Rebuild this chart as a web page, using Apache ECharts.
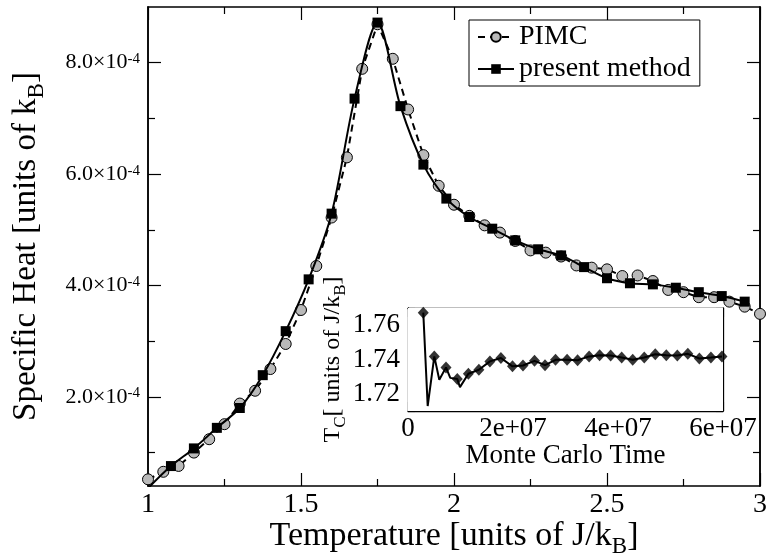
<!DOCTYPE html>
<html>
<head>
<meta charset="utf-8">
<script src="https://cdn.jsdelivr.net/npm/echarts@6/dist/echarts.min.js"></script>
<style>
html,body{margin:0;padding:0;background:#fff;}
#chart{width:767px;height:556px;}
</style>
</head>
<body>
<div id="chart"></div>
<script>
// ---- Main chart data (specific heat in units of 1e-4 k_B) ----
const pimcT = [1.00,1.05,1.10,1.15,1.20,1.25,1.30,1.35,1.40,1.45,1.50,1.55,1.60,1.65,1.70,1.75,1.80,1.85,1.90,1.95,2.00,2.05,2.10,2.15,2.20,2.25,2.30,2.35,2.40,2.45,2.50,2.55,2.60,2.65,2.70,2.75,2.80,2.85,2.90,2.95,3.00];
const pimcHeat = [0.52,0.655,0.76,1.00,1.24,1.51,1.88,2.11,2.50,2.95,3.56,4.35,5.22,6.30,7.89,8.69,8.07,7.16,6.34,5.79,5.45,5.25,5.08,4.95,4.80,4.63,4.59,4.52,4.36,4.32,4.29,4.17,4.18,4.08,3.92,3.88,3.79,3.79,3.71,3.62,3.49];
const presentT = [1.075,1.15,1.225,1.30,1.375,1.45,1.525,1.60,1.675,1.75,1.825,1.90,1.975,2.05,2.125,2.20,2.275,2.35,2.425,2.50,2.575,2.65,2.725,2.80,2.875,2.95];
const presentHeat = [0.758,1.075,1.444,1.80,2.39,3.18,4.11,5.29,7.355,8.72,7.22,6.17,5.56,5.23,5.02,4.81,4.65,4.54,4.33,4.13,4.04,4.02,3.96,3.88,3.81,3.71];
// start of the present-method curve (line only, below the axis)
const presentLineStartT = [1.00];
const presentLineStartHeat = [0.36];
const heatMajorTicks = [2,4,6,8];
const heatMinorTicks = [1,3,5,7];

// ---- Inset data: critical temperature vs Monte Carlo time ----
const mcTime = [2.91e6,5.01e6,7.24e6,9.39e6,11.5e6,13.5e6,15.6e6,17.7e6,19.9e6,21.9e6,24.1e6,26.1e6,28.1e6,30.3e6,32.3e6,34.5e6,36.5e6,38.6e6,40.7e6,42.8e6,45.0e6,47.1e6,49.2e6,51.3e6,53.3e6,55.5e6,57.7e6,59.8e6];
const tcValue = [1.7673,1.7418,1.7354,1.7286,1.7317,1.7340,1.7389,1.7409,1.7360,1.7365,1.7392,1.7367,1.7398,1.7398,1.7396,1.7418,1.7425,1.7423,1.7412,1.7398,1.7412,1.7431,1.7425,1.7423,1.7433,1.7406,1.7412,1.7418];
// intermediate points of the inset curve (no marker)
const mcTimeLineOnly = [3.75e6,5.96e6,8.05e6,9.9e6];
const tcLineOnly = [1.7129,1.7282,1.7293,1.7239];

const FONT = 'Liberation Serif';

const pimcData = pimcT.map((t,i)=>[t,pimcHeat[i]]);
const presentData = presentLineStartT.map((t,i)=>({value:[t,presentLineStartHeat[i]],symbol:'none'}))
  .concat(presentT.map((t,i)=>[t,presentHeat[i]]));
const insetMarkers = mcTime.map((t,i)=>[t,tcValue[i]]);
const insetLine = insetMarkers.concat(mcTimeLineOnly.map((t,i)=>[t,tcLineOnly[i]])).sort((a,b)=>a[0]-b[0]);

const black = '#000';

function heatAxis(pos, ticks, len, labels){
  return {
    type:'value', gridIndex:0, position:pos, min:0.4, max:9.0,
    axisLine:{show:true,onZero:false,lineStyle:{color:black,width:1.5}},
    axisTick:{show:true,inside:true,length:len,customValues:ticks,lineStyle:{color:black,width:1.2}},
    axisLabel: labels ? {
      show:true, customValues:ticks, margin:8, color:black,
      formatter:function(v){return '{m|'+v.toFixed(1)+'×10}{e|-4}';},
      rich:{m:{fontFamily:FONT,fontSize:22,color:black},e:{fontFamily:FONT,fontSize:15,color:black,verticalAlign:'top'}}
    } : {show:false},
    splitLine:{show:false}
  };
}

const option = {
  animation:false,
  backgroundColor:'#fff',
  textStyle:{fontFamily:FONT,color:black},
  grid:[
    {left:148,right:7,top:7,bottom:70,containLabel:false,outerBoundsMode:'none'},
    {left:408,top:308,width:315,height:103,show:true,backgroundColor:'#fff',borderWidth:0,z:5,containLabel:false,outerBoundsMode:'none'}
  ],
  legend:{
    data:['PIMC','present method'],
    orient:'vertical', left:469, top:20,
    padding:[3,9,3,8], itemGap:4, itemWidth:36, itemHeight:12,
    borderColor:black, borderWidth:1, backgroundColor:'#fff',
    textStyle:{fontFamily:FONT,fontSize:28,color:black},
    selectedMode:false
  },
  xAxis:[
    {type:'value',gridIndex:0,position:'bottom',min:1,max:3,interval:0.5,
     axisLine:{show:true,onZero:false,lineStyle:{color:black,width:1.5}},
     axisTick:{inside:true,length:13,lineStyle:{color:black,width:1.2}},
     minorTick:{show:true,splitNumber:2,length:7,lineStyle:{color:black,width:1.2}},
     axisLabel:{fontFamily:FONT,fontSize:28,color:black,margin:5,showMinLabel:true,showMaxLabel:true},
     splitLine:{show:false},
     name:'{m|Temperature [units of J/k}{s|B}{m|]}',nameLocation:'middle',nameGap:33,nameMoveOverlap:false,
     nameTextStyle:{rich:{m:{fontFamily:FONT,fontSize:34,color:black,verticalAlign:'bottom',padding:[0,0,5,0]},s:{fontFamily:FONT,fontSize:23,color:black,verticalAlign:'bottom'}}}
    },
    {type:'value',gridIndex:0,position:'top',min:1,max:3,interval:0.5,
     axisLine:{show:true,onZero:false,lineStyle:{color:black,width:1.5}},
     axisTick:{inside:true,length:13,lineStyle:{color:black,width:1.2}},
     minorTick:{show:true,splitNumber:2,length:7,lineStyle:{color:black,width:1.2}},
     axisLabel:{show:false},splitLine:{show:false}},
    {type:'value',gridIndex:1,position:'bottom',min:0,max:6e7,interval:2e7,
     axisLine:{show:true,onZero:false,lineStyle:{color:black,width:1.3}},
     axisTick:{inside:true,length:9,lineStyle:{color:black,width:1.1}},
     minorTick:{show:true,splitNumber:2,length:5,lineStyle:{color:black,width:1.1}},
     axisLabel:{fontFamily:FONT,fontSize:27,color:black,margin:4,showMinLabel:true,showMaxLabel:true,
       formatter:function(v){return v===0?'0':(v/1e7)+'e+07';}},
     splitLine:{show:false},
     name:'Monte Carlo Time',nameLocation:'middle',nameGap:31,
     nameTextStyle:{fontFamily:FONT,fontSize:27,color:black}
    },
    {type:'value',gridIndex:1,position:'top',min:0,max:6e7,interval:2e7,
     axisLine:{show:true,onZero:false,lineStyle:{color:black,width:1.3}},
     axisTick:{inside:true,length:9,lineStyle:{color:black,width:1.1}},
     minorTick:{show:true,splitNumber:2,length:5,lineStyle:{color:black,width:1.1}},
     axisLabel:{show:false},splitLine:{show:false}}
  ],
  yAxis:[
    Object.assign(heatAxis('left',heatMajorTicks,13,true),{
      name:'{m|Specific Heat [units of k}{s|B}{m|]}',nameLocation:'middle',nameGap:100,nameRotate:90,
      nameTextStyle:{rich:{m:{fontFamily:FONT,fontSize:33,color:black,verticalAlign:'bottom',padding:[0,0,5,0]},s:{fontFamily:FONT,fontSize:23,color:black,verticalAlign:'bottom'}}}
    }),
    heatAxis('left',heatMinorTicks,7,false),
    heatAxis('right',heatMajorTicks,13,false),
    heatAxis('right',heatMinorTicks,7,false),
    {type:'value',gridIndex:1,position:'left',min:1.71,max:1.77,interval:0.01,
     axisLine:{show:true,onZero:false,lineStyle:{color:black,width:1.3}},
     axisTick:{inside:true,length:7,lineStyle:{color:black,width:1.1}},
     axisLabel:{fontFamily:FONT,fontSize:27,color:black,margin:8,showMinLabel:true,showMaxLabel:true,
       formatter:function(v){const k=Math.round(v*100);return (k%2===0 && k>171 && k<177)?(k/100).toFixed(2):'';}},
     splitLine:{show:false},
     name:'{m|T}{s|C}{m|[ units of J/k}{s|B}{m|]}',nameLocation:'middle',nameGap:58,nameRotate:90,
     nameTextStyle:{rich:{m:{fontFamily:FONT,fontSize:24,color:black,verticalAlign:'bottom',padding:[0,0,4,0]},s:{fontFamily:FONT,fontSize:17,color:black,verticalAlign:'bottom'}}}
    },
    {type:'value',gridIndex:1,position:'right',min:1.71,max:1.77,interval:0.01,
     axisLine:{show:true,onZero:false,lineStyle:{color:black,width:1.3}},
     axisTick:{inside:true,length:7,lineStyle:{color:black,width:1.1}},
     axisLabel:{show:false},splitLine:{show:false}}
  ],
  series:[
    {name:'PIMC',type:'line',xAxisIndex:0,yAxisIndex:0,data:pimcData,
     symbol:'circle',symbolSize:11,showAllSymbol:true,z:3,
     itemStyle:{color:'#b9b9b9',borderColor:black,borderWidth:1},
     lineStyle:{color:black,width:2,type:[7,5]}},
    {name:'present method',type:'line',xAxisIndex:0,yAxisIndex:0,data:presentData,
     symbol:'rect',symbolSize:10,showAllSymbol:true,smooth:0.3,z:4,
     itemStyle:{color:black,borderColor:black,borderWidth:0},
     lineStyle:{color:black,width:2}},
    {name:'Tc line',type:'line',xAxisIndex:2,yAxisIndex:4,data:insetLine,
     symbol:'none',z:10,lineStyle:{color:black,width:2}},
    {name:'Tc',type:'scatter',xAxisIndex:2,yAxisIndex:4,data:insetMarkers,
     symbol:'diamond',symbolSize:[11,12],z:11,itemStyle:{color:black}}
  ]
};
const chart = echarts.init(document.getElementById('chart'),null,{renderer:'canvas'});
chart.setOption(option);
</script>
</body>
</html>
